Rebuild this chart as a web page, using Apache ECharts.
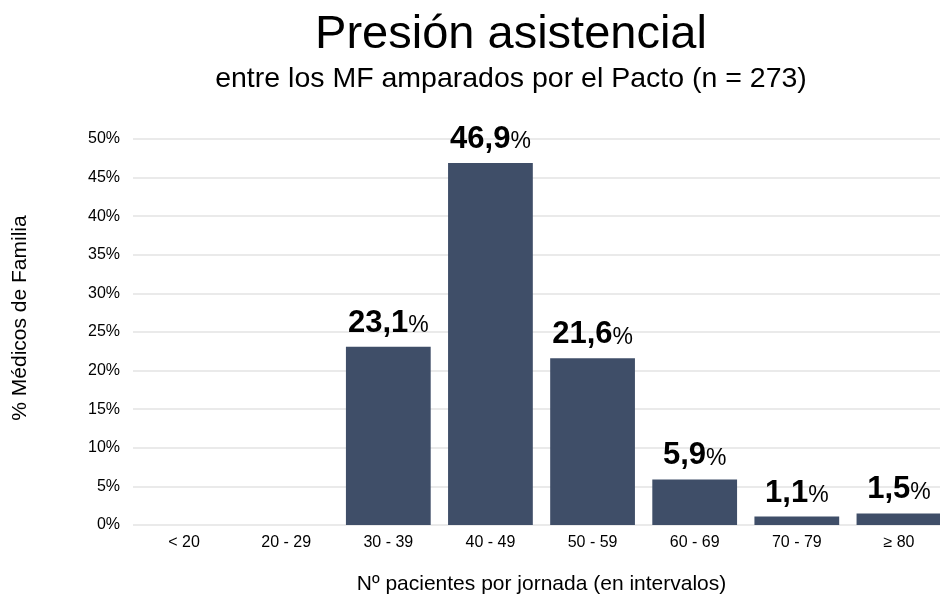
<!DOCTYPE html>
<html><head><meta charset="utf-8">
<script src="https://cdn.jsdelivr.net/npm/echarts@6/dist/echarts.min.js"></script>
<style>html,body{margin:0;padding:0;background:#fff;overflow:hidden}#c{width:940px;height:596px}</style>
</head><body><div id="c"></div>
<script>
const categories = ['< 20', '20 - 29', '30 - 39', '40 - 49', '50 - 59', '60 - 69', '70 - 79', '≥ 80'];
const values = [0, 0, 23.1, 46.9, 21.6, 5.9, 1.1, 1.5];
const yTicks = [0, 5, 10, 15, 20, 25, 30, 35, 40, 45, 50];

const chart = echarts.init(document.getElementById('c'), null, {renderer: 'canvas', width: 940, height: 596});
const F = 'Liberation Sans, Arial, Helvetica, sans-serif';
chart.setOption({
  animation: false,
  textStyle: {fontFamily: F},
  title: [{
    text: 'Presión asistencial', left: 506, top: 7, textAlign: 'center',
    textStyle: {fontFamily: F, fontSize: 47, fontWeight: 'normal', color: '#000'}
  }, {
    text: 'entre los MF amparados por el Pacto (n = 273)', left: 506, top: 60, textAlign: 'center',
    textStyle: {fontFamily: F, fontSize: 28.5, fontWeight: 'normal', color: '#000'}
  }],
  graphic: [{
    type: 'text', x: 20, y: 318, rotation: Math.PI / 2,
    style: {text: '% Médicos de Familia', font: '21px ' + F, fill: '#000', align: 'center', verticalAlign: 'middle'}
  }],
  grid: {left: 133, top: 139, width: 817, height: 386, containLabel: false, outerBoundsMode: 'none'},
  xAxis: {
    type: 'category', data: categories,
    axisLine: {show: false}, axisTick: {show: false},
    axisLabel: {color: '#000', fontSize: 16, margin: 10, fontFamily: F},
    name: 'Nº pacientes por jornada (en intervalos)', nameLocation: 'middle', nameGap: 49,
    nameTextStyle: {color: '#000', fontSize: 21, fontFamily: F}
  },
  yAxis: {
    type: 'value', min: 0, max: 50, interval: 5,
    axisLabel: {color: '#000', fontSize: 16, margin: 13, formatter: v => yTicks.includes(v) ? v + '%' : '', fontFamily: F},
    splitLine: {lineStyle: {color: '#e3e3e3', width: 1.5}},
    axisLine: {show: false}, axisTick: {show: false}
  },
  series: [{
    type: 'bar', data: values, barCategoryGap: '17%',
    itemStyle: {color: '#3f4e68'},
    label: {
      show: true, position: 'top', distance: 8,
      formatter: p => p.value > 0 ? '{n|' + String(p.value.toFixed(1)).replace('.', ',') + '}{p|%}' : '',
      rich: {
        n: {fontSize: 31, fontWeight: 'bold', color: '#000', fontFamily: F},
        p: {fontSize: 23, color: '#000', fontFamily: F, padding: [5, 0, 0, 0]}
      }
    }
  }]
});
</script></body></html>
